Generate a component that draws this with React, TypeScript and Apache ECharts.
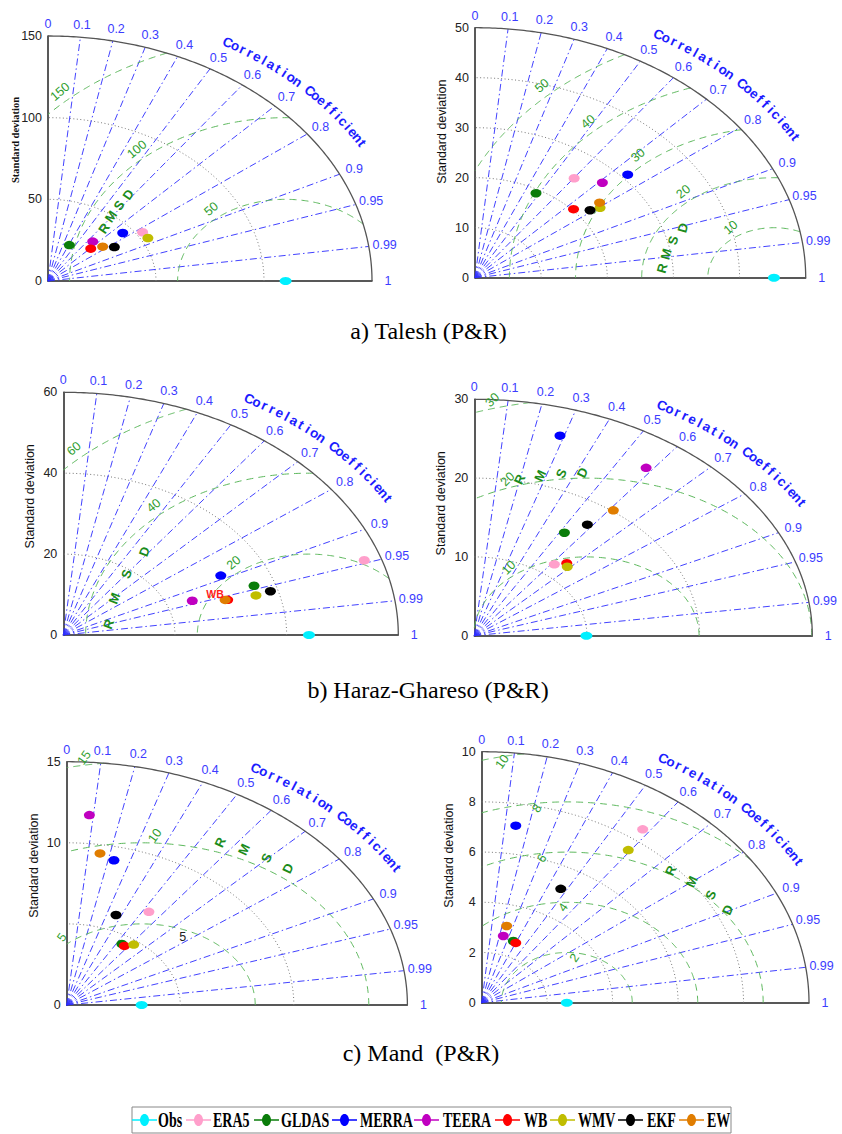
import React, { useEffect, useRef } from "react";
import * as echarts from "echarts";

// ---------------- DATA ----------------
const MODELS = ["Obs", "ERA5", "GLDAS", "MERRA", "TEERA", "WB", "WMV", "EKF", "EW"];
const MODEL_COLORS = ["#00f0ff", "#ff9fcb", "#0a7d0a", "#0000ff", "#c000c0", "#ff0000", "#c0bd00", "#000000", "#e07d00"];

const CORR_LINES = [0.1, 0.2, 0.3, 0.4, 0.5, 0.6, 0.7, 0.8, 0.9, 0.95, 0.99];
const CORR_LABEL_VALUES = [0, 0.1, 0.2, 0.3, 0.4, 0.5, 0.6, 0.7, 0.8, 0.9, 0.95, 0.99, 1];
const CORR_LABELS = ["0", "0.1", "0.2", "0.3", "0.4", "0.5", "0.6", "0.7", "0.8", "0.9", "0.95", "0.99", "1"];

// model order: ERA5, GLDAS, MERRA, TEERA, WB, WMV, EKF, EW
// a) Talesh (P&R) - left
const TALESH_L_TICKS = [0, 50, 100, 150];
const TALESH_L_TICK_LABELS = ["0", "50", "100", "150"];
const TALESH_L_OBS = 110;
const TALESH_L_STD = [53.0, 24.1, 45.4, 31.8, 28.0, 53.2, 37.1, 32.9];
const TALESH_L_CORR = [0.826, 0.41, 0.762, 0.651, 0.707, 0.869, 0.828, 0.769];
const TALESH_L_RMSD = [50, 100, 150];

// a) Talesh (P&R) - right
const TALESH_R_TICKS = [0, 10, 20, 30, 40, 50];
const TALESH_R_TICK_LABELS = ["0", "10", "20", "30", "40", "50"];
const TALESH_R_OBS = 45.2;
const TALESH_R_STD = [24.9, 19.25, 30.95, 27.05, 20.24, 23.52, 22.02, 24.09];
const TALESH_R_CORR = [0.602, 0.479, 0.746, 0.712, 0.736, 0.804, 0.79, 0.782];
const TALESH_R_RMSD = [10, 20, 30, 40, 50];

// b) Haraz-Ghareso (P&R) - left
const HARAZ_L_TICKS = [0, 20, 40, 60];
const HARAZ_L_TICK_LABELS = ["0", "20", "40", "60"];
const HARAZ_L_OBS = 44;
const HARAZ_L_STD = [56.98, 36.26, 31.8, 24.6, 30.7, 35.87, 38.64, 30.26];
const HARAZ_L_CORR = [0.946, 0.942, 0.887, 0.939, 0.959, 0.962, 0.96, 0.958];
const HARAZ_L_RMSD = [20, 40, 60];

// b) Haraz-Ghareso (P&R) - right
const HARAZ_R_TICKS = [0, 10, 20, 30];
const HARAZ_R_TICK_LABELS = ["0", "10", "20", "30"];
const HARAZ_R_OBS = 9.95;
const HARAZ_R_STD = [11.51, 15.32, 26.5, 26.2, 12.32, 12.03, 17.3, 20.13];
const HARAZ_R_CORR = [0.617, 0.522, 0.287, 0.582, 0.666, 0.686, 0.58, 0.613];
const HARAZ_R_RMSD = [10, 20, 30];

// c) Mand (P&R) - left
const MAND_L_TICKS = [0, 5, 10, 15];
const MAND_L_TICK_LABELS = ["0", "", "10", "15"];
const MAND_L_OBS = 3.3;
const MAND_L_STD = [6.79, 4.48, 9.16, 11.75, 4.44, 4.75, 5.96, 9.46];
const MAND_L_CORR = [0.533, 0.542, 0.227, 0.085, 0.572, 0.621, 0.364, 0.155];
const MAND_L_RMSD = [5, 10, 15];

// c) Mand (P&R) - right
const MAND_R_TICKS = [0, 2, 4, 6, 8, 10];
const MAND_R_TICK_LABELS = ["0", "2", "4", "6", "8", "10"];
const MAND_R_OBS = 2.6;
const MAND_R_STD = [8.48, 2.64, 7.13, 2.74, 2.6, 7.55, 5.14, 3.15];
const MAND_R_CORR = [0.58, 0.366, 0.146, 0.241, 0.4, 0.593, 0.47, 0.242];
const MAND_R_RMSD = [2, 4, 6, 8, 10];

const TITLES = ["a) Talesh (P&R)", "b) Haraz-Ghareso (P&R)", "c) Mand  (P&R)"];

// ---------------- LAYOUT ----------------
type Diag = {
  ticks: number[]; tickLabels: string[]; obs: number; std: number[]; corr: number[]; rmsd: number[];
  left: number; top: number; w: number; h: number;
  rmsdAng: number[]; rmsdOff: number; rmsdRot: number;
  rmsdTitle: [number, number, number, number];
  serifY?: boolean;
};

const DIAGS: Diag[] = [
  { ticks: TALESH_L_TICKS, tickLabels: TALESH_L_TICK_LABELS, obs: TALESH_L_OBS, std: TALESH_L_STD, corr: TALESH_L_CORR, rmsd: TALESH_L_RMSD,
    left: 48, top: 36, w: 324, h: 245, rmsdAng: [128, 130.5, 132], rmsdOff: 0.04, rmsdRot: 40,
    rmsdTitle: [90, 159, 144, 55], serifY: true },
  { ticks: TALESH_R_TICKS, tickLabels: TALESH_R_TICK_LABELS, obs: TALESH_R_OBS, std: TALESH_R_STD, corr: TALESH_R_CORR, rmsd: TALESH_R_RMSD,
    left: 475, top: 27.7, w: 330.7, h: 250, rmsdAng: [123, 128.5, 130, 132, 132.4], rmsdOff: 0.04, rmsdRot: 40,
    rmsdTitle: [17, 173.7, 144, 75] },
  { ticks: HARAZ_L_TICKS, tickLabels: HARAZ_L_TICK_LABELS, obs: HARAZ_L_OBS, std: HARAZ_L_STD, corr: HARAZ_L_CORR, rmsd: HARAZ_L_RMSD,
    left: 63.3, top: 392.3, w: 335, h: 242.7, rmsdAng: [127, 131, 132.4], rmsdOff: 0.04, rmsdRot: 40,
    rmsdTitle: [36, 175.7, 145, 70] },
  { ticks: HARAZ_R_TICKS, tickLabels: HARAZ_R_TICK_LABELS, obs: HARAZ_R_OBS, std: HARAZ_R_STD, corr: HARAZ_R_CORR, rmsd: HARAZ_R_RMSD,
    left: 474.3, top: 399.3, w: 338, h: 236.4, rmsdAng: [128.6, 109.4, 105.6], rmsdOff: 0.035, rmsdRot: 45,
    rmsdTitle: [20.7, 106.6, 91, 65] },
  { ticks: MAND_L_TICKS, tickLabels: MAND_L_TICK_LABELS, obs: MAND_L_OBS, std: MAND_L_STD, corr: MAND_L_CORR, rmsd: MAND_L_RMSD,
    left: 66.7, top: 761.7, w: 340.7, h: 243.3, rmsdAng: [130, 86.8, 99.4], rmsdOff: 0.03, rmsdRot: 55,
    rmsdTitle: [10.6, 71, 52.6, 65] },
  { ticks: MAND_R_TICKS, tickLabels: MAND_R_TICK_LABELS, obs: MAND_R_OBS, std: MAND_R_STD, corr: MAND_R_CORR, rmsd: MAND_R_RMSD,
    left: 481.7, top: 751.7, w: 327.3, h: 251, rmsdAng: [82.6, 91.7, 97.5, 96.7, 101.6], rmsdOff: -0.02, rmsdRot: 55,
    rmsdTitle: [6.15, 58.9, 37, 65] },
];

const LEGEND_ICON_X = [132, 186, 254, 332, 414, 495, 550, 618, 679];
const LEGEND_TEXT_X = [158, 213, 281, 360, 443, 524, 578, 647, 707];

const SANS = "Liberation Sans, Arial, sans-serif";
const SERIF = "Liberation Serif, Times New Roman, serif";
const D2R = Math.PI / 180;

function buildOption() {
  const grid: any[] = [];
  const xAxis: any[] = [];
  const yAxis: any[] = [];
  const series: any[] = [];
  const graphic: any[] = [];

  const line = (gi: number, data: number[][], color: string, width: number, type: any, z: number) => ({
    type: "line", xAxisIndex: gi, yAxisIndex: gi, data, showSymbol: false, symbol: "none",
    clip: false, silent: true, z, lineStyle: { color, width, type }, emphasis: { disabled: true },
  });

  const txt = (x: number, y: number, text: string, style: any, rotation = 0, extra: any = {}) => ({
    type: "text", x, y, rotation, silent: true, z: 50, ...extra,
    style: { text, align: "center", verticalAlign: "middle", ...style },
  });

  DIAGS.forEach((d, gi) => {
    const max = d.ticks[d.ticks.length - 1];
    const tick = d.ticks[1] - d.ticks[0];
    const toPx = (x: number, y: number) => [d.left + (x / max) * d.w, d.top + d.h - (y / max) * d.h];

    grid.push({ left: d.left, top: d.top, width: d.w, height: d.h, containLabel: false });
    xAxis.push({
      gridIndex: gi, type: "value", min: 0, max,
      axisLine: { show: true, onZero: false, lineStyle: { color: "#222", width: 1.5 } },
      axisLabel: { show: false }, axisTick: { show: false }, splitLine: { show: false },
    });
    yAxis.push({
      gridIndex: gi, type: "value", min: 0, max, interval: tick,
      axisLine: { show: true, onZero: false, lineStyle: { color: "#222", width: 1.5 } },
      axisLabel: {
        show: true, color: "#222", fontSize: 12.5, fontFamily: SANS, margin: 6,
        formatter: (v: number) => {
          const idx = d.ticks.findIndex((t) => Math.abs(t - v) < 1e-9);
          return idx >= 0 ? d.tickLabels[idx] : "";
        },
      },
      axisTick: { show: false }, splitLine: { show: false },
    });

    // correlation rays
    CORR_LINES.forEach((c) => {
      const s = Math.sqrt(1 - c * c);
      series.push(line(gi, [[0, 0], [max * c, max * s]], "rgba(45,45,255,0.9)", 1, [7, 3, 1.5, 3], 2));
    });

    // std-dev dotted arcs
    for (let s = tick; s < max - 1e-9; s += tick) {
      const pts: number[][] = [];
      for (let k = 0; k <= 120; k++) {
        const t = (k / 120) * (Math.PI / 2);
        pts.push([s * Math.cos(t), s * Math.sin(t)]);
      }
      series.push(line(gi, pts, "#777", 1, [1, 2.5], 1));
    }

    // RMSD arcs around obs
    const o = d.obs;
    d.rmsd.forEach((r) => {
      const c1 = Math.max(-1, Math.min(1, (max * max - o * o - r * r) / (2 * o * r)));
      const c2 = Math.max(-1, Math.min(1, -o / r));
      const t1 = Math.acos(c1);
      const t2 = Math.acos(c2);
      if (t2 <= t1) return;
      const pts: number[][] = [];
      for (let k = 0; k <= 200; k++) {
        const t = t1 + ((t2 - t1) * k) / 200;
        pts.push([o + r * Math.cos(t), r * Math.sin(t)]);
      }
      series.push(line(gi, pts, "#5cb85c", 1, [7, 5], 3));
    });

    // outer arc
    {
      const pts: number[][] = [];
      for (let k = 0; k <= 180; k++) {
        const t = (k / 180) * (Math.PI / 2);
        pts.push([max * Math.cos(t), max * Math.sin(t)]);
      }
      series.push(line(gi, pts, "#555", 1.3, "solid", 4));
    }

    // points
    series.push({
      type: "scatter", name: MODELS[0], xAxisIndex: gi, yAxisIndex: gi, clip: false, z: 10,
      data: [[o, 0]], symbol: "circle", symbolSize: [12, 8], itemStyle: { color: MODEL_COLORS[0], opacity: 1 },
    });
    d.std.forEach((s, k) => {
      const c = d.corr[k];
      series.push({
        type: "scatter", name: MODELS[k + 1], xAxisIndex: gi, yAxisIndex: gi, clip: false, z: 10,
        data: [[s * c, s * Math.sqrt(1 - c * c)]], symbol: "circle", symbolSize: [11, 8.5],
        itemStyle: { color: MODEL_COLORS[k + 1], opacity: 1 },
      });
    });

    // correlation labels
    CORR_LABEL_VALUES.forEach((c, k) => {
      const th = Math.acos(c);
      const [ex, ey] = toPx(max * c, max * Math.sin(th));
      let vx = Math.cos(th) * d.w;
      let vy = -Math.sin(th) * d.h;
      const n = Math.hypot(vx, vy);
      vx /= n; vy /= n;
      const dist = 12 + 4 * c;
      graphic.push(txt(ex + vx * dist, ey + vy * dist, CORR_LABELS[k],
        { fill: "#3c3cff", fontSize: 12.5, fontFamily: SANS }));
    });

    // "Correlation Coefficient" along the arc
    const title = "Correlation Coefficient";
    const nC = title.length;
    for (let k = 0; k < nC; k++) {
      const ch = title[k];
      if (ch === " ") continue;
      const ang = (60.3 - (k * 30.2) / (nC - 1)) * D2R;
      const [px, py] = toPx(1.12 * max * Math.cos(ang), 1.12 * max * Math.sin(ang));
      const rot = Math.atan2(-d.h * Math.cos(ang), d.w * Math.sin(ang));
      graphic.push(txt(px, py, ch, { fill: "#1c1cff", fontSize: 13.5, fontWeight: "bold", fontFamily: SANS }, rot));
    }

    // RMSD contour labels
    d.rmsd.forEach((r, k) => {
      const phi = d.rmsdAng[k] * D2R;
      const rr = r + d.rmsdOff * max;
      const [px, py] = toPx(o + rr * Math.cos(phi), rr * Math.sin(phi));
      graphic.push(txt(px, py, String(r), { fill: "#2e9e2e", fontSize: 12.5, fontFamily: SANS }, d.rmsdRot * D2R));
    });

    // RMSD title letters
    const [rr, a0, a1, rotDeg] = d.rmsdTitle;
    "RMSD".split("").forEach((ch, k) => {
      const phi = (a0 + ((a1 - a0) * k) / 3) * D2R;
      const [px, py] = toPx(o + rr * Math.cos(phi), rr * Math.sin(phi));
      graphic.push(txt(px, py, ch, { fill: "#1b8c1b", fontSize: 13, fontWeight: "bold", fontFamily: SANS }, rotDeg * D2R));
    });

    // y axis name
    graphic.push(txt(d.left - 33, d.top + 104, "Standard deviation",
      d.serifY
        ? { fill: "#111", fontSize: 10.5, fontWeight: "bold", fontFamily: SERIF }
        : { fill: "#111", fontSize: 12.5, fontFamily: SANS },
      Math.PI / 2));
  });

  // extra annotations
  graphic.push(txt(215, 594, "WB", { fill: "#ff1a1a", fontSize: 10.5, fontWeight: "bold", fontFamily: SANS }));
  graphic.push(txt(182.7, 937.3, "5", { fill: "#222", fontSize: 12.5, fontFamily: SANS }));

  // panel titles
  graphic.push(txt(428.5, 331, TITLES[0], { fill: "#000", fontSize: 24, fontFamily: SERIF }));
  graphic.push(txt(428, 690, TITLES[1], { fill: "#000", fontSize: 24, fontFamily: SERIF }));
  graphic.push(txt(421, 1053, TITLES[2], { fill: "#000", fontSize: 24, fontFamily: SERIF }));

  // legend
  graphic.push({
    type: "rect", silent: true, z: 40,
    shape: { x: 132, y: 1107, width: 599, height: 26 },
    style: { fill: "#fff", stroke: "#888", lineWidth: 1 },
  });
  MODELS.forEach((m, k) => {
    const ix = LEGEND_ICON_X[k];
    const cy = 1120;
    graphic.push({ type: "line", silent: true, z: 45, shape: { x1: ix, y1: cy, x2: ix + 25, y2: cy },
      style: { stroke: MODEL_COLORS[k], lineWidth: 1.5 } });
    graphic.push({ type: "ellipse", silent: true, z: 46, shape: { cx: ix + 12.5, cy, rx: 4.5, ry: 6 },
      style: { fill: MODEL_COLORS[k] } });
    graphic.push({
      type: "text", x: LEGEND_TEXT_X[k], y: cy + 1, scaleX: 0.7, silent: true, z: 47,
      style: { text: m, fill: "#000", fontSize: 20, fontWeight: "bold", fontFamily: SERIF, align: "left", verticalAlign: "middle" },
    });
  });

  return {
    animation: false,
    backgroundColor: "#fff",
    grid, xAxis, yAxis, series, graphic,
    tooltip: { show: false },
  };
}

export default function App() {
  const ref = useRef<HTMLDivElement>(null);
  useEffect(() => {
    if (!ref.current) return;
    const chart = echarts.init(ref.current, null, { renderer: "svg" });
    chart.setOption(buildOption() as any);
    return () => chart.dispose();
  }, []);
  return <div ref={ref} style={{ position: "absolute", left: 0, top: 0, width: 842, height: 1134 }} />;
}
